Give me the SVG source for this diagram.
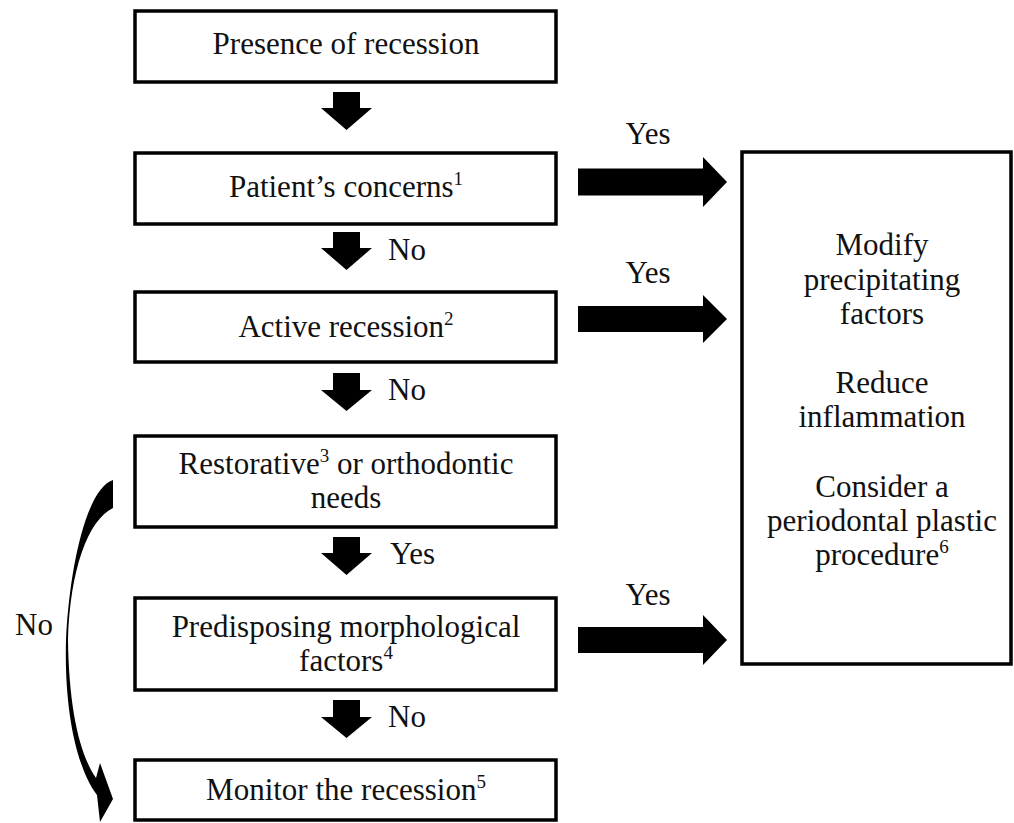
<svg xmlns="http://www.w3.org/2000/svg" width="1014" height="823" viewBox="0 0 1014 823">
<style>
.box{fill:#fff;stroke:#000;stroke-width:3.5}
.t{font-family:"Liberation Serif","Times New Roman",serif;font-size:31px;fill:#111;text-anchor:middle}
.l{font-family:"Liberation Serif","Times New Roman",serif;font-size:31px;fill:#111}
.sup{font-size:19px}
.arr{fill:#000}
</style>
<rect width="1014" height="823" fill="#fff"/>
<g id="n1"><rect class="box" x="135" y="11" width="421" height="71"/><text class="t" x="346" y="54">Presence of recession</text></g>
<g id="n2"><rect class="box" x="135" y="153" width="421" height="71"/><text class="t" x="346" y="197">Patient’s concerns<tspan class="sup" dy="-12">1</tspan></text></g>
<g id="n3"><rect class="box" x="135" y="292" width="421" height="70"/><text class="t" x="346" y="337">Active recession<tspan class="sup" dy="-12">2</tspan></text></g>
<g id="n4"><rect class="box" x="135" y="436" width="421" height="91"/><text class="t" x="346" y="474">Restorative<tspan class="sup" dy="-12">3</tspan><tspan dy="12"> or orthodontic</tspan></text><text class="t" x="346" y="508">needs</text></g>
<g id="n5"><rect class="box" x="135" y="598" width="421" height="92"/><text class="t" x="346" y="637">Predisposing morphological</text><text class="t" x="346" y="671">factors<tspan class="sup" dy="-12">4</tspan></text></g>
<g id="n6"><rect class="box" x="135" y="760" width="421" height="60"/><text class="t" x="346" y="800">Monitor the recession<tspan class="sup" dy="-12">5</tspan></text></g>
<g id="n7"><rect class="box" x="742" y="152" width="269" height="512"/>
<text class="t" x="882" y="255">Modify</text>
<text class="t" x="882" y="290">precipitating</text>
<text class="t" x="882" y="324">factors</text>
<text class="t" x="882" y="393">Reduce</text>
<text class="t" x="882" y="427">inflammation</text>
<text class="t" x="882" y="497">Consider a</text>
<text class="t" x="882" y="531">periodontal plastic</text>
<text class="t" x="882" y="565">procedure<tspan class="sup" dy="-12">6</tspan></text>
</g>
<g id="connectors">
<polygon class="arr" points="333,92 360,92 360,108 372,108 346.5,130 321,108 333,108"/>
<polygon class="arr" points="333,232 360,232 360,248 372,248 346.5,270 321,248 333,248"/>
<polygon class="arr" points="333,373 360,373 360,390 372,390 346.5,411 321,390 333,390"/>
<polygon class="arr" points="333,537 360,537 360,553 372,553 346.5,575 321,553 333,553"/>
<polygon class="arr" points="333,700 360,700 360,717 372,717 346.5,738 321,717 333,717"/>
<polygon class="arr" points="578,168.5 703,168.5 703,157 727,182 703,207 703,195.5 578,195.5"/>
<polygon class="arr" points="578,306 703,306 703,295 727,319 703,343 703,332 578,332"/>
<polygon class="arr" points="578,627 703,627 703,615 727,640 703,665 703,653 578,653"/>
<path class="arr" d="M113,480 C88,488 70,560 66,640 C64,715 78,770 97,795 L100,822 L113,799 L100,763 L96,778 C80,755 69,710 68,640 C70,570 88,520 113,508 Z"/>
<text class="l" x="388" y="260">No</text>
<text class="l" x="388" y="400">No</text>
<text class="l" x="390" y="564">Yes</text>
<text class="l" x="388" y="727">No</text>
<text class="t" x="648" y="144">Yes</text>
<text class="t" x="648" y="283">Yes</text>
<text class="t" x="648" y="605">Yes</text>
<text class="l" x="15" y="635">No</text>
</g>
</svg>
